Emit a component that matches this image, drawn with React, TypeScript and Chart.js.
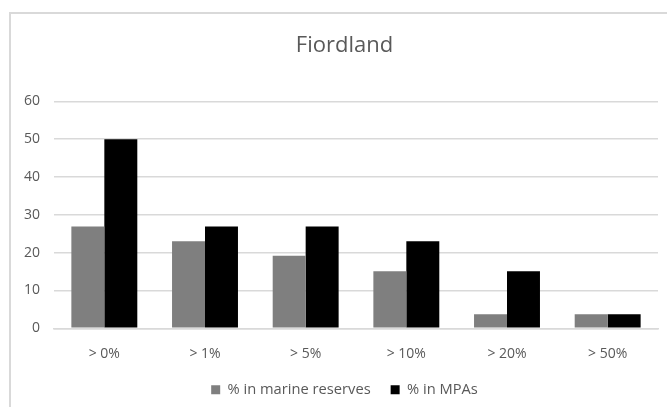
import React, { useEffect, useRef } from "react";
import { Chart, registerables } from "chart.js";

Chart.register(...registerables);

const categories = ["> 0%", "> 1%", "> 5%", "> 10%", "> 20%", "> 50%"];
const marineReserves = [26.9, 23.0, 19.2, 15.1, 3.7, 3.7];
const mpas = [50, 26.9, 26.9, 23.0, 15.1, 3.7];
const yTicks = [0, 10, 20, 30, 40, 50, 60];

const FONT = "'Open Sans', 'Noto Sans', sans-serif";
const TEXT = "#595959";
const GRID = "#d9d9d9";

export default function App() {
  const canvasRef = useRef<HTMLCanvasElement | null>(null);

  useEffect(() => {
    const canvas = canvasRef.current;
    if (!canvas) return;
    const chart = new Chart(canvas, {
      type: "bar",
      data: {
        labels: categories,
        datasets: [
          {
            label: "% in marine reserves",
            data: marineReserves,
            backgroundColor: "#7f7f7f",
            categoryPercentage: 0.655,
            barPercentage: 1,
          },
          {
            label: "% in MPAs",
            data: mpas,
            backgroundColor: "#000000",
            categoryPercentage: 0.655,
            barPercentage: 1,
          },
        ],
      },
      options: {
        animation: false,
        responsive: false,
        maintainAspectRatio: false,
        layout: { padding: 0 },
        plugins: {
          title: {
            display: true,
            text: "Fiordland",
            color: TEXT,
            font: { family: FONT, size: 22, weight: "normal" },
            padding: { top: 21, bottom: 42 },
          },
          legend: {
            position: "bottom",
            labels: {
              color: TEXT,
              font: { family: FONT, size: 14.7 },
              boxWidth: 9,
              boxHeight: 9,
              padding: 20,
            },
          },
          tooltip: { enabled: false },
        },
        scales: {
          x: {
            grid: { display: false, drawTicks: false },
            border: { display: true, color: GRID, width: 1.5 },
            afterFit: (scale: any) => {
              scale.height = 34;
            },
            ticks: { color: TEXT, font: { family: FONT, size: 14 }, padding: 17 },
          },
          y: {
            min: 0,
            max: 60,
            afterBuildTicks: (scale: any) => {
              scale.ticks = yTicks.map((v) => ({ value: v }));
            },
            afterFit: (scale: any) => {
              scale.width = 45;
            },
            grid: { color: GRID, lineWidth: 1.5, drawTicks: false },
            border: { display: false },
            ticks: { color: TEXT, font: { family: FONT, size: 14 }, padding: 14 },
          },
          // empty right-hand margin of the plot area
          spacer: {
            type: "linear",
            position: "right",
            display: true,
            grid: { display: false, drawTicks: false },
            border: { display: false },
            ticks: { display: false },
            afterFit: (scale: any) => {
              scale.width = 22;
            },
          },
        },
      },
    });
    return () => chart.destroy();
  }, []);

  return (
    <div
      style={{
        position: "fixed",
        left: 0,
        top: 0,
        width: 667,
        height: 407,
        overflow: "hidden",
        background: "#fff",
      }}
    >
      <div
        style={{
          position: "absolute",
          left: 9,
          top: 12,
          width: 700,
          height: 420,
          border: `2px solid ${GRID}`,
          boxSizing: "border-box",
        }}
      />
      <canvas
        ref={canvasRef}
        width={671}
        height={395}
        style={{ position: "absolute", left: 9, top: 12, width: 671, height: 395 }}
      />
    </div>
  );
}
